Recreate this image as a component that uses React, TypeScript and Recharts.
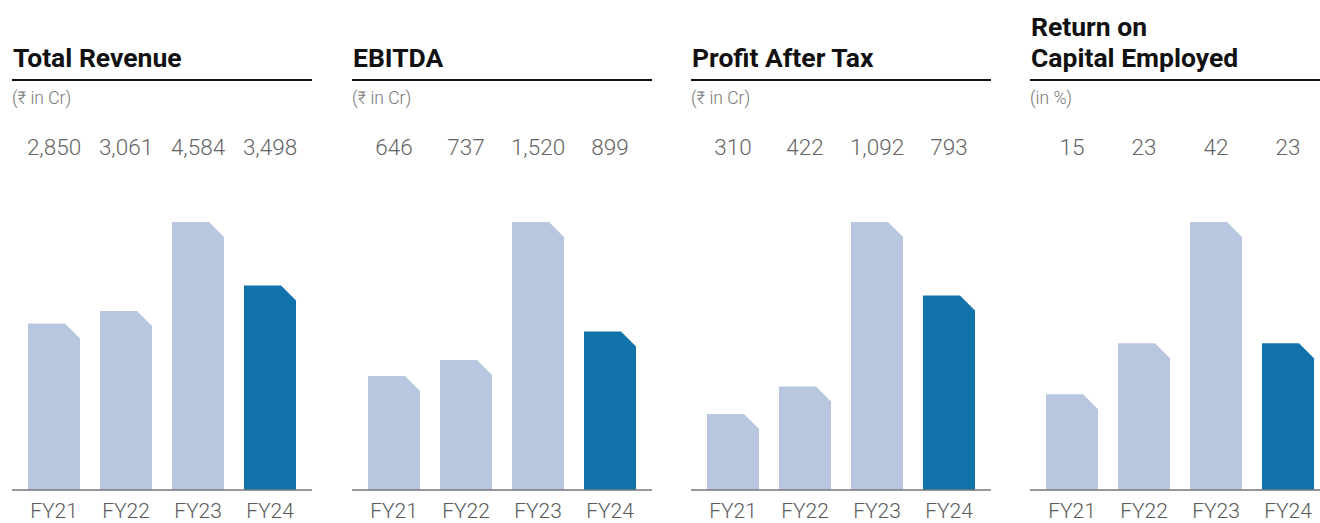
import React from 'react';
import { BarChart, Bar, XAxis, YAxis, LabelList } from 'recharts';

const years = ['FY21', 'FY22', 'FY23', 'FY24'];
const revenue = [2850, 3061, 4584, 3498];
const ebitda = [646, 737, 1520, 899];
const pat = [310, 422, 1092, 793];
const roce = [15, 23, 42, 23];
const titles = [['Total Revenue'], ['EBITDA'], ['Profit After Tax'], ['Return on', 'Capital Employed']];
const units = ['(₹ in Cr)', '(₹ in Cr)', '(₹ in Cr)', '(in %)'];
const seriesList = [revenue, ebitda, pat, roce];
const highlightYear = 'FY24';

const panelLeft = [12, 352, 691, 1030];
const LIGHT = '#B8C7DF';
const DARK = '#1273AA';
const FONT = 'Roboto, "Noto Sans", sans-serif';

const CHART_TOP = 110;
const CHART_H = 413;

const ChamferBar = (props: any) => {
  const { x, y, width, height, payload } = props;
  if (!height || height <= 0) return null;
  const c = Math.min(15, height, width);
  const d = `M${x},${y + height} L${x},${y} L${x + width - c},${y} L${x + width},${y + c} L${x + width},${y + height} Z`;
  return <path d={d} fill={payload.year === highlightYear ? DARK : LIGHT} />;
};

const ValueLabel = (props: any) => {
  const { x, width, value } = props;
  return (
    <text x={x + width / 2} y={45} textAnchor="middle" fontFamily={FONT} fontWeight={300} fontSize={22.5} fill="#666">
      {Number(value).toLocaleString('en-US')}
    </text>
  );
};

const YearTick = (props: any) => {
  const { x, payload } = props;
  return (
    <text x={x} y={408} textAnchor="middle" fontFamily={FONT} fontWeight={300} fontSize={21} fill="#5a5a5a">
      {payload.value}
    </text>
  );
};

const Panel = ({ idx }: { idx: number }) => {
  const data = years.map((year, i) => ({ year, value: seriesList[idx][i] }));
  return (
    <div style={{ position: 'absolute', left: panelLeft[idx], top: CHART_TOP }}>
      <BarChart width={300} height={CHART_H} data={data} margin={{ top: 112, right: 0, bottom: 0, left: 0 }}>
        <XAxis
          dataKey="year"
          height={33}
          padding={{ left: 6, right: 6 }}
          tickLine={false}
          axisLine={{ stroke: '#777', strokeWidth: 1.5 }}
          tick={<YearTick />}
          interval={0}
        />
        <YAxis hide domain={[0, 'dataMax']} />
        <Bar dataKey="value" barSize={52} shape={<ChamferBar />} isAnimationActive={false}>
          <LabelList dataKey="value" content={<ValueLabel />} />
        </Bar>
      </BarChart>
    </div>
  );
};

export default function App() {
  return (
    <div style={{ position: 'fixed', left: 0, top: 0, width: 1320, height: 523, background: '#fff', overflow: 'hidden' }}>
      <svg width={1320} height={523} style={{ position: 'absolute', left: 0, top: 0 }}>
        {panelLeft.map((x0, i) => {
          const lines = titles[i];
          return (
            <g key={i}>
              {lines.map((t, j) => (
                <text
                  key={j}
                  x={x0 + 1}
                  y={67 - (lines.length - 1 - j) * 31}
                  fontFamily={FONT}
                  fontWeight={700}
                  fontSize={26.5}
                  fill="#111"
                >
                  {t}
                </text>
              ))}
              <line x1={x0} x2={x0 + 300} y1={80} y2={80} stroke="#111" strokeWidth={2} />
              <text x={x0} y={104} fontFamily={FONT} fontWeight={300} fontSize={17.5} fill="#777">
                {units[i]}
              </text>
            </g>
          );
        })}
      </svg>
      {panelLeft.map((_, i) => (
        <Panel key={i} idx={i} />
      ))}
    </div>
  );
}
